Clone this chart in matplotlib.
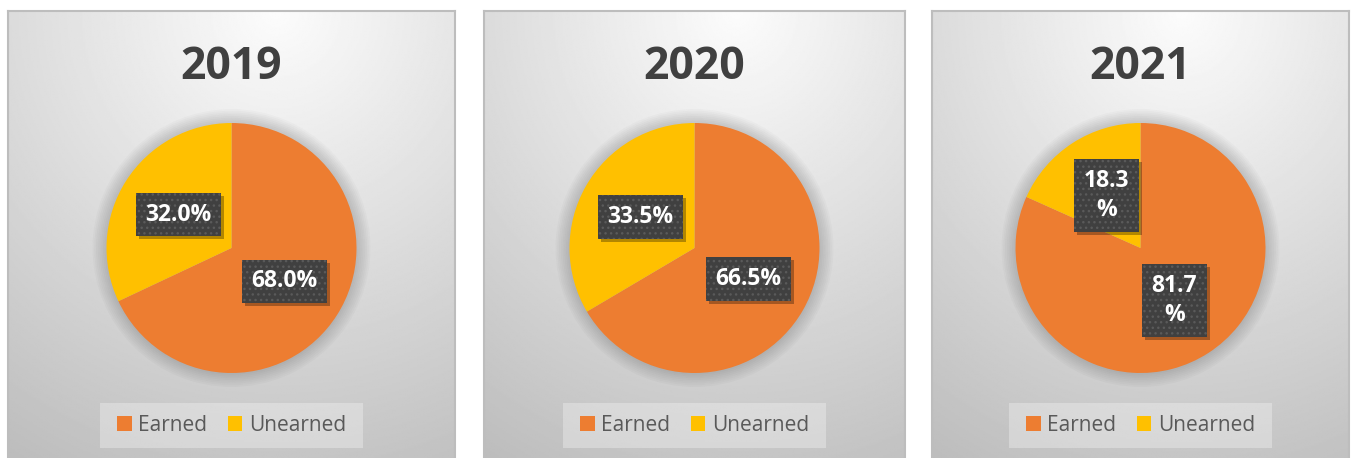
import numpy as np
import matplotlib
matplotlib.use('Agg')
import matplotlib.pyplot as plt
from matplotlib.patches import Rectangle, Circle
from matplotlib.transforms import IdentityTransform

# data
years = ['2019', '2020', '2021']
categories = ['Earned', 'Unearned']
earned = [68.0, 66.5, 81.7]
unearned = [32.0, 33.5, 18.3]

colors = ['#ED7D31', '#FFC000']

# layout (pixels, top-left origin)
W, H = 1356, 458
panels = [(8, 455), (484, 905), (932, 1349)]
wrap_labels = [False, False, True]
pie_cy, pie_r = 248, 125

plt.rcParams['font.family'] = ['Open Sans', 'DejaVu Sans']
plt.rcParams['hatch.linewidth'] = 1.0

fig = plt.figure(figsize=(W / 100, H / 100), dpi=100)


def frac(x0, ytop, w, h):
    return [x0 / W, (H - ytop - h) / H, w / W, h / H]


# radial gray gradient for panel background
gx, gy = np.meshgrid(np.linspace(0, 1, 300), np.linspace(1, 0, 300))
dist = np.hypot(gx - 0.6, gy - 1.0)
grad = np.clip(252 - 55 * dist, 0, 255)

labels = []
for i, year in enumerate(years):
    x0, x1 = panels[i]
    cx = (x0 + x1) / 2

    ax_bg = fig.add_axes(frac(x0, 11, x1 - x0, H - 11 + 4))
    ax_bg.imshow(grad, cmap='gray', vmin=0, vmax=255, extent=(0, 1, 0, 1), aspect='auto')
    ax_bg.set_xticks([])
    ax_bg.set_yticks([])
    for s in ax_bg.spines.values():
        s.set_color('#bdbdbd')
        s.set_linewidth(1.5)

    lim = 1.15
    size = 2 * pie_r * lim
    ax = fig.add_axes(frac(cx - size / 2, pie_cy - size / 2, size, size))
    ax.patch.set_alpha(0)

    fmt = '{:.1f}\n%' if wrap_labels[i] else '{:.1f}%'
    wedges, _, autotexts = ax.pie(
        [earned[i], unearned[i]], colors=colors, startangle=90, counterclock=False,
        radius=1, pctdistance=0.5, autopct=lambda p: fmt.format(p),
        wedgeprops=dict(linewidth=0),
        textprops=dict(color='white', fontsize=16.5, fontweight='bold'))
    for w in wedges:
        w.set_zorder(2)

    # soft halo around pie
    for k in range(8):
        ax.add_patch(Circle((0, 0), 1 + 0.014 * (k + 1), facecolor='black',
                            alpha=0.02, linewidth=0, zorder=1))

    for t in autotexts:
        t.set_zorder(6)
        t.set_linespacing(1.3)
        t.set_bbox(dict(boxstyle='square,pad=0.42', facecolor='#404040',
                        edgecolor='#5a5a5a', linewidth=0, hatch='...'))
        labels.append((ax, t))

    ax.set_xlim(-lim, lim)
    ax.set_ylim(-lim, lim)
    ax.axis('off')

    fig.text(cx / W, (H - 79) / H, year, ha='center', va='baseline',
             fontsize=32, fontweight='bold', color='#404040')

    fig.add_artist(Rectangle(((cx - 131.5) / W, (H - 448) / H), 263 / W, 45 / H,
                             transform=fig.transFigure, facecolor='white',
                             alpha=0.3, linewidth=0))
    fig.legend(wedges, categories, loc='center',
               bbox_to_anchor=(cx / W, (H - 425.5) / H), ncol=2, frameon=False,
               prop={'size': 15}, labelcolor='#595959',
               handlelength=0.7, handleheight=0.7, handletextpad=0.3,
               columnspacing=1.0)

# drop shadows behind the label boxes
fig.canvas.draw()
for ax, t in labels:
    bb = t.get_bbox_patch().get_window_extent()
    ax.add_patch(Rectangle((bb.x0 + 3, bb.y0 - 3), bb.width, bb.height,
                           transform=IdentityTransform(), facecolor='black',
                           alpha=0.3, linewidth=0, zorder=5, clip_on=False))

fig.savefig('out.png', dpi=100)
